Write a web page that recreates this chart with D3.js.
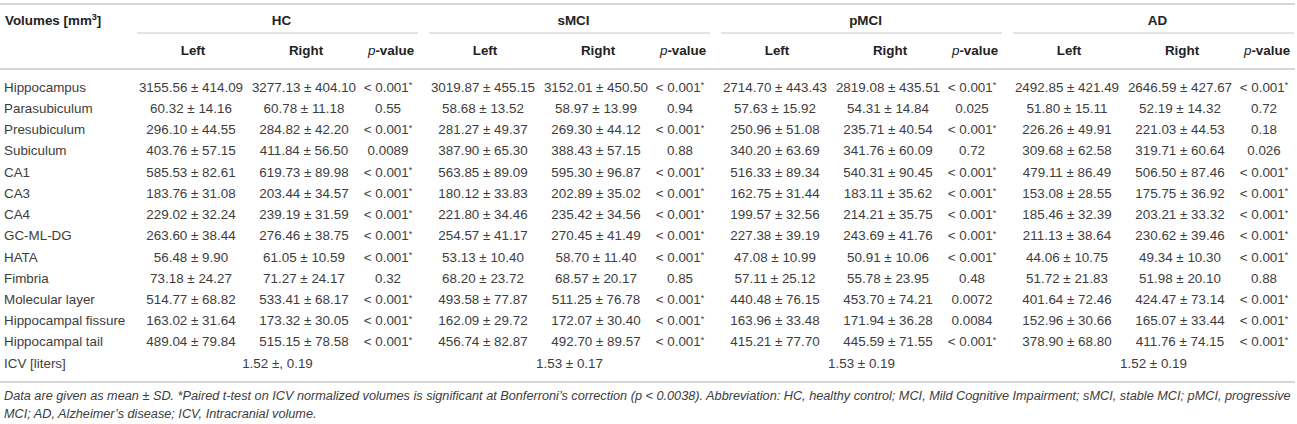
<!DOCTYPE html>
<html>
<head>
<meta charset="utf-8">
<script src="https://cdn.jsdelivr.net/npm/d3@7"></script>
<style>
  body { margin: 0; background: #fff; }
  svg { display: block; font-family: "Liberation Sans", Arial, sans-serif; }
</style>
</head>
<body>
<svg id="chart" width="1297" height="424"></svg>
<script>
// Table content
const regions = ['Hippocampus', 'Parasubiculum', 'Presubiculum', 'Subiculum', 'CA1', 'CA3', 'CA4',
  'GC-ML-DG', 'HATA', 'Fimbria', 'Molecular layer', 'Hippocampal fissure', 'Hippocampal tail'];
const groups = ['HC', 'sMCI', 'pMCI', 'AD'];
const subCols = ['Left', 'Right', 'p-value'];

const hcLeft = ['3155.56 ± 414.09', '60.32 ± 14.16', '296.10 ± 44.55', '403.76 ± 57.15', '585.53 ± 82.61', '183.76 ± 31.08', '229.02 ± 32.24', '263.60 ± 38.44', '56.48 ± 9.90', '73.18 ± 24.27', '514.77 ± 68.82', '163.02 ± 31.64', '489.04 ± 79.84'];
const hcRight = ['3277.13 ± 404.10', '60.78 ± 11.18', '284.82 ± 42.20', '411.84 ± 56.50', '619.73 ± 89.98', '203.44 ± 34.57', '239.19 ± 31.59', '276.46 ± 38.75', '61.05 ± 10.59', '71.27 ± 24.17', '533.41 ± 68.17', '173.32 ± 30.05', '515.15 ± 78.58'];
const hcP = ['<0.001*', '0.55', '<0.001*', '0.0089', '<0.001*', '<0.001*', '<0.001*', '<0.001*', '<0.001*', '0.32', '<0.001*', '<0.001*', '<0.001*'];

const smciLeft = ['3019.87 ± 455.15', '58.68 ± 13.52', '281.27 ± 49.37', '387.90 ± 65.30', '563.85 ± 89.09', '180.12 ± 33.83', '221.80 ± 34.46', '254.57 ± 41.17', '53.13 ± 10.40', '68.20 ± 23.72', '493.58 ± 77.87', '162.09 ± 29.72', '456.74 ± 82.87'];
const smciRight = ['3152.01 ± 450.50', '58.97 ± 13.99', '269.30 ± 44.12', '388.43 ± 57.15', '595.30 ± 96.87', '202.89 ± 35.02', '235.42 ± 34.56', '270.45 ± 41.49', '58.70 ± 11.40', '68.57 ± 20.17', '511.25 ± 76.78', '172.07 ± 30.40', '492.70 ± 89.57'];
const smciP = ['<0.001*', '0.94', '<0.001*', '0.88', '<0.001*', '<0.001*', '<0.001*', '<0.001*', '<0.001*', '0.85', '<0.001*', '<0.001*', '<0.001*'];

const pmciLeft = ['2714.70 ± 443.43', '57.63 ± 15.92', '250.96 ± 51.08', '340.20 ± 63.69', '516.33 ± 89.34', '162.75 ± 31.44', '199.57 ± 32.56', '227.38 ± 39.19', '47.08 ± 10.99', '57.11 ± 25.12', '440.48 ± 76.15', '163.96 ± 33.48', '415.21 ± 77.70'];
const pmciRight = ['2819.08 ± 435.51', '54.31 ± 14.84', '235.71 ± 40.54', '341.76 ± 60.09', '540.31 ± 90.45', '183.11 ± 35.62', '214.21 ± 35.75', '243.69 ± 41.76', '50.91 ± 10.06', '55.78 ± 23.95', '453.70 ± 74.21', '171.94 ± 36.28', '445.59 ± 71.55'];
const pmciP = ['<0.001*', '0.025', '<0.001*', '0.72', '<0.001*', '<0.001*', '<0.001*', '<0.001*', '<0.001*', '0.48', '0.0072', '0.0084', '<0.001*'];

const adLeft = ['2492.85 ± 421.49', '51.80 ± 15.11', '226.26 ± 49.91', '309.68 ± 62.58', '479.11 ± 86.49', '153.08 ± 28.55', '185.46 ± 32.39', '211.13 ± 38.64', '44.06 ± 10.75', '51.72 ± 21.83', '401.64 ± 72.46', '152.96 ± 30.66', '378.90 ± 68.80'];
const adRight = ['2646.59 ± 427.67', '52.19 ± 14.32', '221.03 ± 44.53', '319.71 ± 60.64', '506.50 ± 87.46', '175.75 ± 36.92', '203.21 ± 33.32', '230.62 ± 39.46', '49.34 ± 10.30', '51.98 ± 20.10', '424.47 ± 73.14', '165.07 ± 33.44', '411.76 ± 74.15'];
const adP = ['<0.001*', '0.72', '0.18', '0.026', '<0.001*', '<0.001*', '<0.001*', '<0.001*', '<0.001*', '0.88', '<0.001*', '<0.001*', '<0.001*'];

const icvLabel = 'ICV [liters]';
const icvValues = ['1.52 ±, 0.19', '1.53 ± 0.17', '1.53 ± 0.19', '1.52 ± 0.19'];

const footnote = [
  'Data are given as mean ± SD. *Paired t-test on ICV normalized volumes is significant at Bonferroni’s correction (p < 0.0038). Abbreviation: HC, healthy control; MCI, Mild Cognitive Impairment; sMCI, stable MCI; pMCI, progressive',
  'MCI; AD, Alzheimer’s disease; ICV, Intracranial volume.'
];

const groupCols = {
  HC: [hcLeft, hcRight, hcP],
  sMCI: [smciLeft, smciRight, smciP],
  pMCI: [pmciLeft, pmciRight, pmciP],
  AD: [adLeft, adRight, adP]
};

// Styles
const LINE_COLOR = '#c9c9c9';
const TEXT_COLOR = '#3d3d3d';
const HEAD_COLOR = '#222';
const FONT_SIZE = 13.4;

const svg = d3.select('#chart');

const rowKeys = regions.concat([icvLabel]);
const y = d3.scalePoint().domain(rowKeys).range([87, 363]);

const gx = d3.scaleBand().domain(groups).range([137, 1294]).paddingInner(0.0377);
// centre of each sub column inside a group band
const subX = d3.scaleOrdinal().domain(subCols).range([54, 167, 251]);

// horizontal rules
const rules = [4, 69, 382];
svg.selectAll('line.rule').data(rules).join('line')
  .attr('class', 'rule')
  .attr('x1', 0).attr('x2', 1295)
  .attr('y1', d => d).attr('y2', d => d)
  .attr('stroke', LINE_COLOR).attr('stroke-width', 1.5);

// group underlines
svg.selectAll('line.gline').data(groups).join('line')
  .attr('class', 'gline')
  .attr('x1', d => gx(d)).attr('x2', d => gx(d) + gx.bandwidth())
  .attr('y1', 33).attr('y2', 33)
  .attr('stroke', LINE_COLOR).attr('stroke-width', 1.2);

// header: Volumes [mm3]
const vh = svg.append('text')
  .attr('x', 5).attr('y', 25)
  .attr('font-size', FONT_SIZE).attr('font-weight', 'bold').attr('fill', HEAD_COLOR);
vh.append('tspan').text('Volumes [mm');
vh.append('tspan').text('3').attr('font-size', 9).attr('dy', -5);
vh.append('tspan').text(']').attr('dy', 5);

// group titles
svg.selectAll('text.gtitle').data(groups).join('text')
  .attr('class', 'gtitle')
  .attr('x', d => gx(d) + gx.bandwidth() / 2 + 4).attr('y', 25)
  .attr('text-anchor', 'middle')
  .attr('font-size', FONT_SIZE).attr('font-weight', 'bold').attr('fill', HEAD_COLOR)
  .text(d => d);

// sub headers
groups.forEach(g => {
  subCols.forEach(c => {
    const t = svg.append('text')
      .attr('x', gx(g) + subX(c) + (c === 'p-value' ? 3 : 2)).attr('y', 55)
      .attr('text-anchor', 'middle')
      .attr('font-size', FONT_SIZE).attr('font-weight', 'bold').attr('fill', HEAD_COLOR);
    if (c === 'p-value') {
      t.append('tspan').text('p').attr('font-style', 'italic').attr('font-weight', 'normal');
      t.append('tspan').text('-value');
    } else {
      t.text(c);
    }
  });
});

// row labels
svg.selectAll('text.rlabel').data(rowKeys).join('text')
  .attr('class', 'rlabel')
  .attr('x', 4).attr('y', d => y(d) + 4.7)
  .attr('font-size', FONT_SIZE).attr('fill', TEXT_COLOR)
  .text(d => d);

// data cells
function drawCell(x, yy, s) {
  const t = svg.append('text')
    .attr('x', x).attr('y', yy + 4.7)
    .attr('text-anchor', 'middle')
    .attr('font-size', FONT_SIZE).attr('fill', TEXT_COLOR);
  if (s.endsWith('*')) {
    t.append('tspan').text(s.slice(0, -1).replace('<', '< '));
    t.append('tspan').text('*').attr('font-size', 9).attr('dy', -3.5);
  } else {
    t.text(s);
  }
}

groups.forEach(g => {
  groupCols[g].forEach((col, ci) => {
    col.forEach((v, ri) => drawCell(gx(g) + subX(subCols[ci]), y(regions[ri]), v));
  });
});

// ICV row spans the whole group
icvValues.forEach((v, i) => drawCell(gx(groups[i]) + gx.bandwidth() / 2, y(icvLabel), v));

// footnote, sized so the first line ends near the right edge
const foot = svg.selectAll('text.foot').data(footnote).join('text')
  .attr('class', 'foot')
  .attr('x', 4).attr('y', (d, i) => 399.5 + i * 18)
  .attr('font-size', 12).attr('font-style', 'italic').attr('fill', TEXT_COLOR)
  .text(d => d);
const w0 = foot.node().getComputedTextLength();
foot.attr('font-size', 12 * 1288 / w0);
</script>
</body>
</html>
